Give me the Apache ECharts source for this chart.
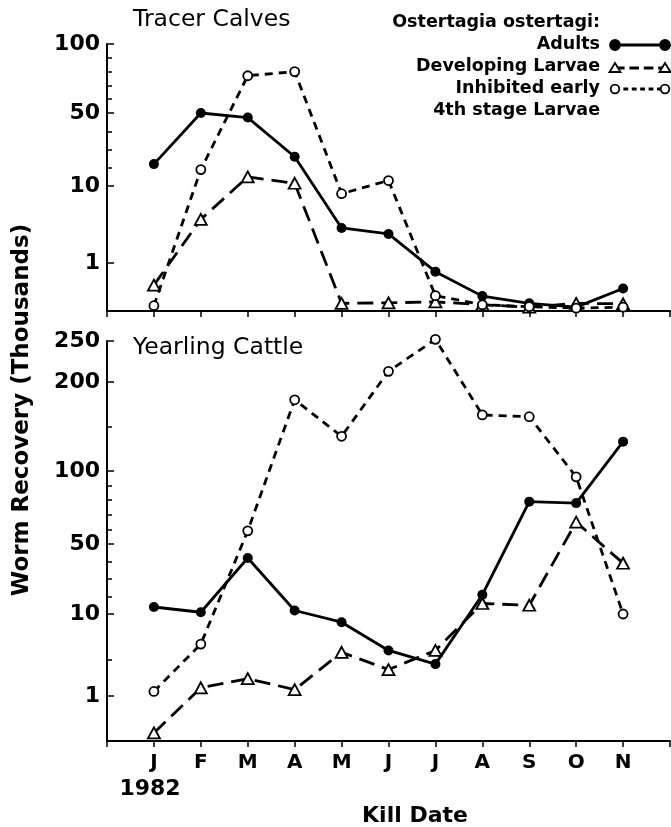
<!DOCTYPE html>
<html>
<head>
<meta charset="utf-8">
<title>Ostertagia ostertagi - worm recovery</title>
<script src="https://cdn.jsdelivr.net/npm/echarts@6/dist/echarts.min.js"></script>
<style>
html, body { margin: 0; padding: 0; background: #fff; }
#main { width: 671px; height: 827px; }
</style>
</head>
<body>
<div id="main"></div>
<script>
// kill dates, 1982
var months = ['J', 'F', 'M', 'A', 'M', 'J', 'J', 'A', 'S', 'O', 'N'];

// Tracer Calves (thousands)
var calvesAdults     = [22, 50, 47.5, 26, 5.1, 4.4, 0.82, 0.31, 0.16, 0.08, 0.47];
var calvesDeveloping = [0.54, 6.1, 15, 11.5, 0.16, 0.17, 0.19, 0.13, 0.08, 0.16, 0.15];
var calvesInhibited  = [0.11, 19, 77, 80, 9.1, 13, 0.32, 0.13, 0.09, 0.06, 0.08];

// Yearling Cattle (thousands)
var yearlingAdults     = [14, 11, 42, 12, 9.1, 6, 4.5, 21, 79, 78, 133];
var yearlingDeveloping = [0.18, 1.9, 2.9, 1.7, 5.8, 3.9, 6, 16, 15, 65, 39];
var yearlingInhibited  = [1.5, 6.7, 59, 180, 139, 213, 252, 163, 161, 96, 10];

// broken y scales: tick values and their height above the x axis
var calvesTicks = [0, 1, 10, 50, 100];
var calvesPos   = [0, 48, 125, 198, 267];
var calvesMinor = [20, 30, 40, 60, 70, 80, 90];

var yearlingTicks = [0, 1, 10, 50, 100, 200, 250];
var yearlingPos   = [0, 45, 127, 197, 270, 359, 400];
var yearlingMinor = [5, 20, 30, 40, 60, 70, 80, 90, 150];

var FONT = '"DejaVu Sans", sans-serif';

// value -> position on the broken axis (piecewise linear between ticks)
function toPos(v, ticks, pos) {
    var i = 1;
    while (i < ticks.length - 1 && v > ticks[i]) i++;
    var t = (v - ticks[i - 1]) / (ticks[i] - ticks[i - 1]);
    return pos[i - 1] + t * (pos[i] - pos[i - 1]);
}

function yAxes(grid, ticks, pos, minor) {
    var majors = pos.slice(1);
    var minors = minor.map(function (v) { return toPos(v, ticks, pos); });
    var top = pos[pos.length - 1];
    return [{
        gridIndex: grid, type: 'value', position: 'left', min: 0, max: top,
        axisLine: { show: true, onZero: false, lineStyle: { color: '#000', width: 2 } },
        axisTick: { show: true, inside: true, length: 7, customValues: majors,
                    lineStyle: { color: '#000', width: 1.5 } },
        axisLabel: {
            customValues: majors, margin: 7, color: '#000',
            fontFamily: FONT, fontWeight: 'bold', fontSize: 22,
            formatter: function (val) {
                for (var j = 0; j < pos.length; j++) {
                    if (Math.abs(pos[j] - val) < 0.01) return String(ticks[j]);
                }
                return '';
            }
        },
        splitLine: { show: false }
    }, {
        // minor ticks only
        gridIndex: grid, type: 'value', position: 'left', offset: 0, min: 0, max: top,
        axisLine: { show: false, onZero: false },
        axisTick: { show: true, inside: true, length: 5, customValues: minors,
                    lineStyle: { color: '#000', width: 1.5 } },
        axisLabel: { show: false },
        splitLine: { show: false }
    }];
}

function xAxis(grid, showLabels) {
    return {
        gridIndex: grid, type: 'value', min: -1, max: 11, interval: 1,
        axisLine: { onZero: false, lineStyle: { color: '#000', width: 2 } },
        axisTick: { show: true, length: 6, lineStyle: { color: '#000', width: 1.5 } },
        axisLabel: {
            show: showLabels, margin: 12, color: '#000',
            fontFamily: FONT, fontWeight: 'bold', fontSize: 20,
            formatter: function (v) { return months[v] || ''; }
        },
        splitLine: { show: false }
    };
}

var styles = {
    adults: {
        symbol: 'circle', symbolSize: 10,
        itemStyle: { color: '#000' },
        lineStyle: { color: '#000', width: 2.8, type: 'solid' }
    },
    developing: {
        symbol: 'triangle', symbolSize: [12, 11],
        itemStyle: { color: '#fff', borderColor: '#000', borderWidth: 1.8 },
        lineStyle: { color: '#000', width: 2.8, type: [16, 8] }
    },
    inhibited: {
        symbol: 'circle', symbolSize: 9,
        itemStyle: { color: '#fff', borderColor: '#000', borderWidth: 1.8 },
        lineStyle: { color: '#000', width: 2.8, type: [8, 6] }
    }
};

function lineSeries(name, values, ticks, pos, grid, axisIdx, st) {
    return {
        name: name, type: 'line', xAxisIndex: grid, yAxisIndex: axisIdx,
        clip: false, showAllSymbol: true, silent: true,
        symbol: st.symbol, symbolSize: st.symbolSize,
        itemStyle: st.itemStyle, lineStyle: st.lineStyle,
        data: values.map(function (v, i) { return [i, toPos(v, ticks, pos)]; })
    };
}

var chart = echarts.init(document.getElementById('main'));

// legend drawn by hand: symbol at both ends of the line
function legendKey(y, st, kind) {
    var els = [{
        type: 'line', shape: { x1: 615, y1: y, x2: 665, y2: y },
        style: { stroke: '#000', lineWidth: 2.8,
                 lineDash: st.lineStyle.type === 'solid' ? null : st.lineStyle.type.map(function (d) { return d * 0.6; }) }
    }];
    [615, 665].forEach(function (cx) {
        if (kind === 'triangle') {
            els.push({ type: 'polygon', shape: { points: [[cx, y - 5], [cx - 5.5, y + 4], [cx + 5.5, y + 4]] },
                       style: { fill: '#fff', stroke: '#000', lineWidth: 1.8 } });
        } else {
            els.push({ type: 'circle', shape: { cx: cx, cy: y, r: kind === 'filled' ? 5 : 4.3 },
                       style: { fill: kind === 'filled' ? '#000' : '#fff', stroke: '#000', lineWidth: 1.8 } });
        }
    });
    return els;
}

function txt(x, y, text, size, weight, align) {
    return {
        type: 'text', x: x, y: y,
        style: { text: text, fill: '#000', fontFamily: FONT, fontSize: size,
                 fontWeight: weight, align: align, verticalAlign: 'middle' }
    };
}

var graphics = [
    txt(133, 20, 'Tracer Calves', 23.5, 'normal', 'left'),
    txt(133, 348, 'Yearling Cattle', 23.5, 'normal', 'left'),
    txt(600, 22, 'Ostertagia ostertagi:', 17.5, 'bold', 'right'),
    txt(600, 44, 'Adults', 17.5, 'bold', 'right'),
    txt(600, 66, 'Developing Larvae', 17.5, 'bold', 'right'),
    txt(600, 88, 'Inhibited early', 17.5, 'bold', 'right'),
    txt(600, 110, '4th stage Larvae', 17.5, 'bold', 'right'),
    txt(150, 789, '1982', 22, 'bold', 'center'),
    txt(415, 816, 'Kill Date', 22, 'bold', 'center'),
    {
        type: 'text', x: 22, y: 410, rotation: Math.PI / 2,
        style: { text: 'Worm Recovery (Thousands)', fill: '#000', fontFamily: FONT,
                 fontSize: 23, fontWeight: 'bold', align: 'center', verticalAlign: 'middle' }
    }
].concat(legendKey(45, styles.adults, 'filled'))
 .concat(legendKey(68, styles.developing, 'triangle'))
 .concat(legendKey(89, styles.inhibited, 'open'));

var option = {
    animation: false,
    backgroundColor: '#fff',
    grid: [
        { left: 107, right: 1, top: 44, height: 267, outerBoundsMode: 'none' },
        { left: 107, right: 1, top: 341, height: 400, outerBoundsMode: 'none' }
    ],
    xAxis: [xAxis(0, false), xAxis(1, true)],
    yAxis: yAxes(0, calvesTicks, calvesPos, calvesMinor)
        .concat(yAxes(1, yearlingTicks, yearlingPos, yearlingMinor)),
    graphic: graphics,
    series: [
        lineSeries('Adults', calvesAdults, calvesTicks, calvesPos, 0, 0, styles.adults),
        lineSeries('Developing Larvae', calvesDeveloping, calvesTicks, calvesPos, 0, 0, styles.developing),
        lineSeries('Inhibited early 4th stage Larvae', calvesInhibited, calvesTicks, calvesPos, 0, 0, styles.inhibited),
        lineSeries('Adults', yearlingAdults, yearlingTicks, yearlingPos, 1, 2, styles.adults),
        lineSeries('Developing Larvae', yearlingDeveloping, yearlingTicks, yearlingPos, 1, 2, styles.developing),
        lineSeries('Inhibited early 4th stage Larvae', yearlingInhibited, yearlingTicks, yearlingPos, 1, 2, styles.inhibited)
    ]
};

chart.setOption(option);
</script>
</body>
</html>
